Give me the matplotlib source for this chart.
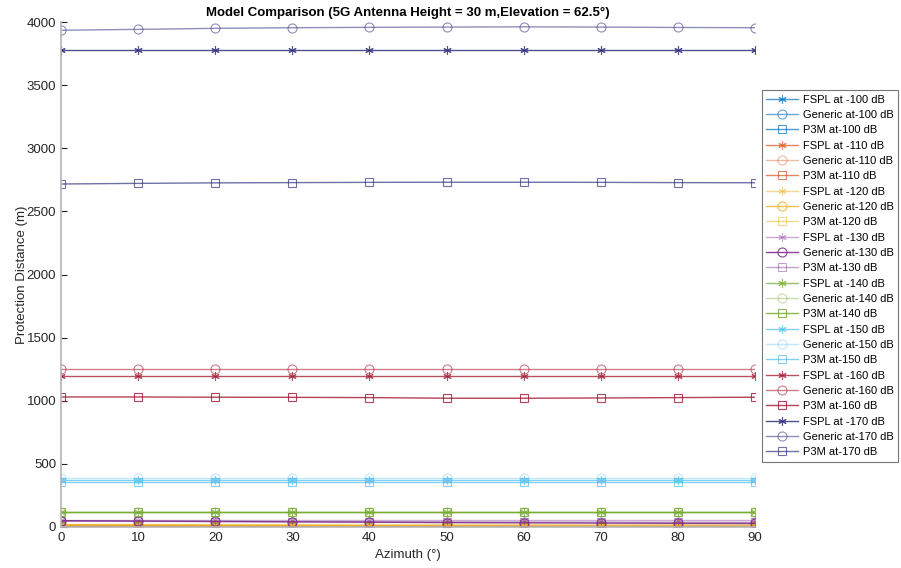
import matplotlib.pyplot as plt
import numpy as np

plt.rcParams['font.family'] = ['Liberation Sans', 'DejaVu Sans']

azimuth = [0, 10, 20, 30, 40, 50, 60, 70, 80, 90]

# protection distance (m) per threshold
fspl_100 = [3, 3, 3, 3, 3, 3, 3, 3, 3, 3]
generic_100 = [5, 5, 5, 4, 4, 4, 4, 4, 4, 4]
p3m_100 = [2, 2, 2, 2, 2, 2, 2, 2, 2, 2]

fspl_110 = [8, 8, 8, 8, 8, 8, 8, 8, 8, 8]
generic_110 = [14, 12, 10, 9, 8, 7, 6, 5, 5, 5]
p3m_110 = [4, 4, 4, 4, 4, 4, 4, 4, 4, 4]

fspl_120 = [22, 22, 22, 22, 22, 22, 22, 22, 22, 22]
generic_120 = [18, 16, 14, 12, 10, 9, 8, 7, 6, 6]
p3m_120 = [12, 11, 10, 9, 8, 7, 6, 6, 5, 5]

fspl_130 = [55, 55, 55, 55, 55, 55, 55, 55, 55, 55]
generic_130 = [50, 47, 44, 41, 38, 35, 33, 31, 29, 28]
p3m_130 = [45, 44, 43, 42, 41, 40, 39, 38, 37, 37]

fspl_140 = [120, 120, 120, 120, 120, 120, 120, 120, 120, 120]
generic_140 = [122, 122, 122, 122, 122, 122, 122, 122, 122, 122]
p3m_140 = [118, 118, 118, 118, 118, 118, 118, 118, 118, 118]

fspl_150 = [372, 372, 372, 372, 372, 372, 372, 372, 372, 372]
generic_150 = [392, 392, 392, 392, 392, 392, 392, 392, 392, 392]
p3m_150 = [355, 355, 355, 355, 355, 355, 355, 355, 355, 355]

fspl_160 = [1196, 1196, 1196, 1196, 1196, 1196, 1196, 1196, 1196, 1196]
generic_160 = [1250, 1250, 1250, 1250, 1250, 1250, 1250, 1250, 1250, 1250]
p3m_160 = [1030, 1030, 1028, 1027, 1025, 1020, 1020, 1022, 1025, 1028]

fspl_170 = [3780, 3780, 3780, 3780, 3780, 3780, 3780, 3780, 3780, 3780]
generic_170 = [3935, 3942, 3950, 3955, 3958, 3960, 3962, 3960, 3957, 3955]
p3m_170 = [2717, 2722, 2726, 2728, 2730, 2731, 2731, 2730, 2728, 2727]

thresholds = [-100, -110, -120, -130, -140, -150, -160, -170]
series = [
    (fspl_100, generic_100, p3m_100),
    (fspl_110, generic_110, p3m_110),
    (fspl_120, generic_120, p3m_120),
    (fspl_130, generic_130, p3m_130),
    (fspl_140, generic_140, p3m_140),
    (fspl_150, generic_150, p3m_150),
    (fspl_160, generic_160, p3m_160),
    (fspl_170, generic_170, p3m_170),
]

# matlab default colour order + a navy one for -170
colors = ['#0072BD', '#D95319', '#EDB120', '#7E2F8E',
          '#77AC30', '#4DBEEE', '#A2142F', '#33337F']
# (fspl, generic, p3m) transparency, roughly as in the legend
alphas = [(0.7, 0.6, 0.7), (0.7, 0.4, 0.7), (0.5, 0.8, 0.5), (0.4, 0.9, 0.45),
          (0.75, 0.4, 0.85), (0.7, 0.35, 0.7), (0.75, 0.55, 0.8), (0.85, 0.55, 0.7)]

asterisk = (6, 2, 0)

fig = plt.figure(figsize=(9.01, 5.68), dpi=100)
ax = fig.add_axes([0.0677, 0.0722, 0.7703, 0.889])

for th, (f, g, p), c, (af, ag, ap) in zip(thresholds, series, colors, alphas):
    ax.plot(azimuth, f, marker=asterisk, ms=6, mew=0.8, lw=1, color=c, alpha=af,
            label='FSPL at %d dB' % th)
    ax.plot(azimuth, g, marker='o', ms=6.5, mfc='none', mew=0.8, lw=1, color=c, alpha=ag,
            label='Generic at%d dB' % th)
    ax.plot(azimuth, p, marker='s', ms=5.5, mfc='none', mew=0.8, lw=1, color=c, alpha=ap,
            label='P3M at%d dB' % th)

ax.set_xlim(0, 90)
ax.set_ylim(0, 4000)
ax.set_xticks(np.arange(0, 91, 10))
ax.set_yticks(np.arange(0, 4001, 500))
for s in ['top', 'right']:
    ax.spines[s].set_visible(False)
for s in ['left', 'bottom']:
    ax.spines[s].set_color('#b5b5b5')
    ax.spines[s].set_linewidth(1.2)
ax.tick_params(direction='in', length=4, color='#262626', labelcolor='#262626', labelsize=9.5)

ax.set_xlabel('Azimuth (°)', fontsize=9.5, color='#262626', labelpad=4)
ax.set_ylabel('Protection Distance (m)', fontsize=9.5, color='#262626', labelpad=-1)
ax.set_title('Model Comparison (5G Antenna Height = 30 m,Elevation = 62.5°)',
             fontsize=9.5, fontweight='bold', pad=4)

leg = ax.legend(loc='upper left', bbox_to_anchor=(1.01, 0.865), fontsize=8,
                frameon=True, fancybox=False, edgecolor='#555555', borderpad=0.4,
                labelspacing=0.48, handlelength=2.8, handletextpad=0.5,
                borderaxespad=0)
leg.get_frame().set_linewidth(0.8)

fig.savefig('out.png', dpi=100)
